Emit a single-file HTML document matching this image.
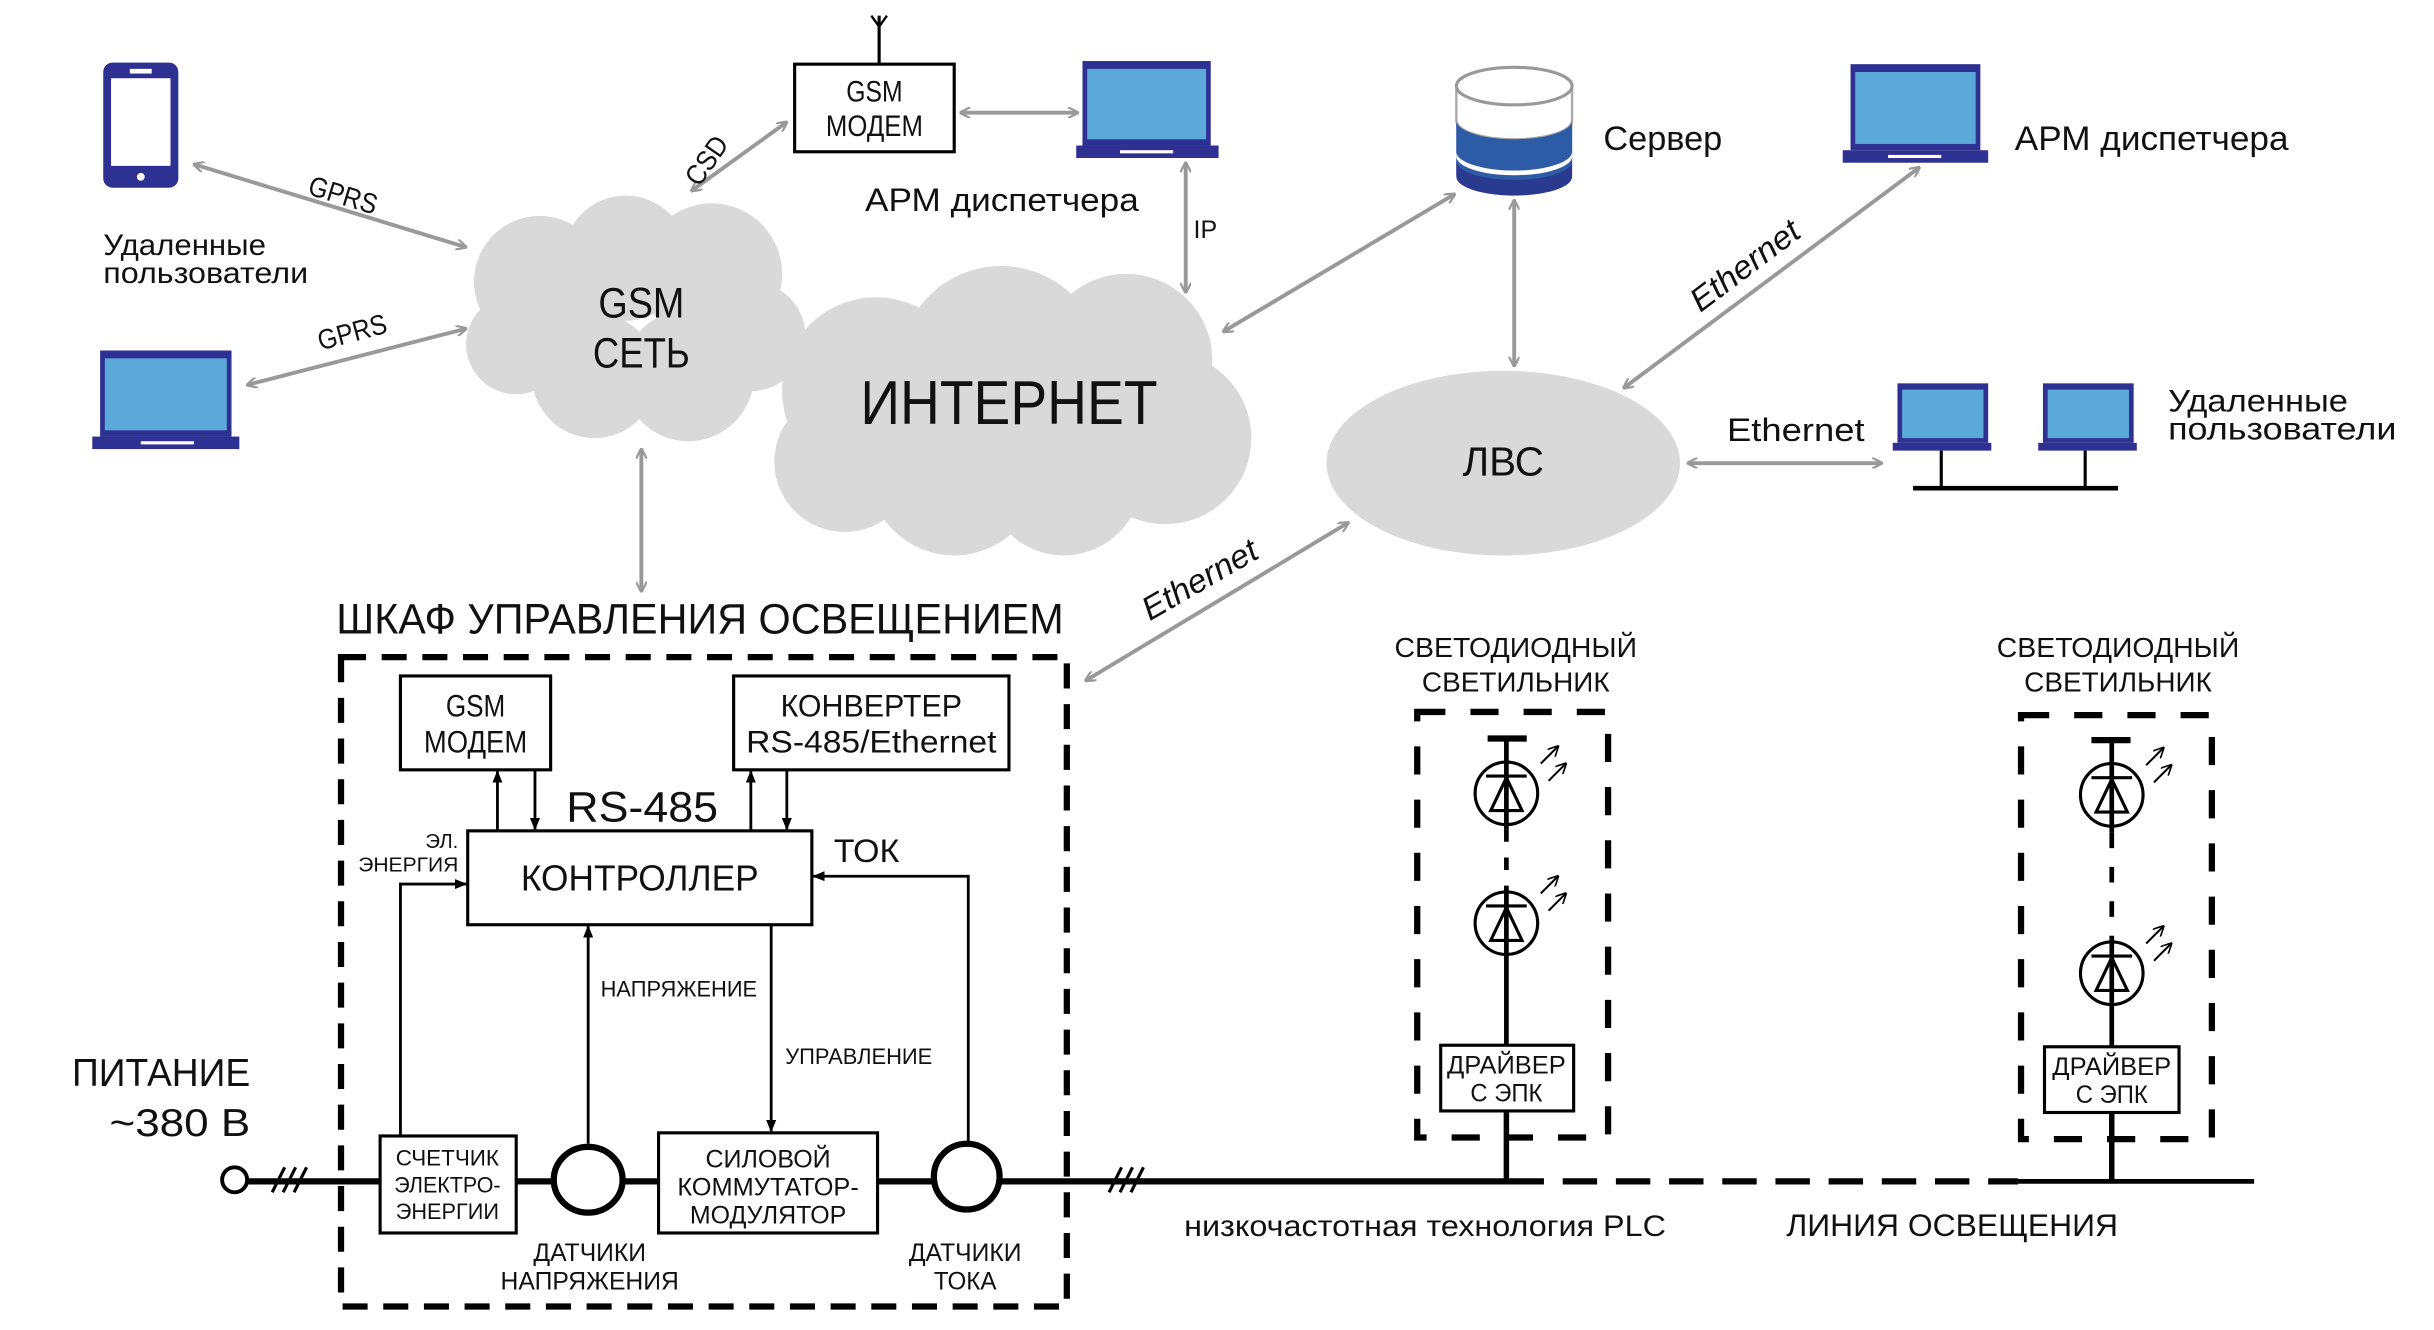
<!DOCTYPE html>
<html><head><meta charset="utf-8"><style>
html,body{margin:0;padding:0;background:#fff;}
svg{display:block;}
text{font-family:"Liberation Sans Narrow","Liberation Sans",sans-serif;fill:#111;}
</style></head><body>
<svg width="2434" height="1330" viewBox="0 0 1556 850" preserveAspectRatio="none" xmlns="http://www.w3.org/2000/svg">
<defs>
<marker id="ga" viewBox="0 0 10 10" refX="9" refY="5" markerWidth="7" markerHeight="7" orient="auto-start-reverse" markerUnits="userSpaceOnUse"><path d="M0,0 L10,5 L0,10" fill="none" stroke="#999" stroke-width="2"/></marker>
<marker id="ba" viewBox="0 0 10 10" refX="9" refY="5" markerWidth="8" markerHeight="8" orient="auto-start-reverse" markerUnits="userSpaceOnUse"><path d="M0,1 L10,5 L0,9 z" fill="#000"/></marker>
<marker id="sa" viewBox="0 0 10 10" refX="9" refY="5" markerWidth="7" markerHeight="7" orient="auto" markerUnits="userSpaceOnUse"><path d="M0,0 L10,5 L0,10" fill="none" stroke="#000" stroke-width="1.5"/></marker>
</defs>
<rect width="1556" height="850" fill="#fff"/>

<g fill="#d9d9d9">
<circle cx="345" cy="180" r="42"/><circle cx="400" cy="165" r="40"/><circle cx="455" cy="175" r="45"/>
<circle cx="330" cy="220" r="32"/><circle cx="380" cy="240" r="40"/><circle cx="440" cy="240" r="42"/><circle cx="480" cy="215" r="35"/>
<circle cx="560" cy="250" r="60"/><circle cx="640" cy="235" r="65"/><circle cx="720" cy="230" r="55"/>
<circle cx="540" cy="295" r="45"/><circle cx="610" cy="300" r="55"/><circle cx="680" cy="305" r="50"/><circle cx="745" cy="280" r="55"/>
<ellipse cx="650" cy="270" rx="140" ry="60"/>
<ellipse cx="961" cy="296" rx="113" ry="59"/>
</g>
<text x="410" y="203" font-size="27" text-anchor="middle" textLength="55" lengthAdjust="spacingAndGlyphs">GSM</text>
<text x="410" y="235" font-size="27" text-anchor="middle" textLength="62" lengthAdjust="spacingAndGlyphs">СЕТЬ</text>
<text x="645" y="271" font-size="40" text-anchor="middle" textLength="190" lengthAdjust="spacingAndGlyphs">ИНТЕРНЕТ</text>
<text x="961" y="304" font-size="26" text-anchor="middle" textLength="52" lengthAdjust="spacingAndGlyphs">ЛВС</text>

<rect x="66" y="40" width="48" height="80" rx="6" fill="#2e3192"/>
<rect x="71" y="50" width="38" height="56" fill="#fff"/>
<rect x="83" y="44" width="14" height="3" fill="#fff"/>
<circle cx="90" cy="113" r="2.5" fill="#fff"/>
<g fill="#2e3192">
<rect x="64" y="224" width="84" height="55"/><rect x="59" y="279" width="94" height="8"/>
<rect x="692" y="39" width="82" height="54"/><rect x="688" y="93" width="91" height="8"/>
<rect x="1183" y="41" width="83" height="55"/><rect x="1178" y="96" width="93" height="8"/>
<rect x="1213" y="245" width="58" height="38"/><rect x="1210" y="283" width="63" height="5"/>
<rect x="1306" y="245" width="58" height="38"/><rect x="1303" y="283" width="63" height="5"/>
</g>
<g fill="#5ba8d9">
<rect x="67" y="229" width="78" height="46"/>
<rect x="695" y="44" width="76" height="45"/>
<rect x="1186" y="46" width="77" height="46"/>
<rect x="1216" y="249" width="52" height="31"/>
<rect x="1309" y="249" width="52" height="31"/>
</g>
<g fill="#fff"><rect x="90" y="282" width="34" height="2"/><rect x="716" y="96" width="34" height="2"/><rect x="1207" y="99" width="34" height="2"/></g>

<path d="M931,55 v57 a37,12 0 0 0 74,0 v-57 z" fill="#2a3a8e"/>
<path d="M931,55 v50 a37,12 0 0 0 74,0 v-50 z" fill="#2d5ba6"/>
<path d="M931,55 v45 a37,12 0 0 0 74,0 v-45 z" fill="#fff"/>
<path d="M931,55 v22 a37,12 0 0 0 74,0 v-22 z" fill="#fff" stroke="#aaa" stroke-width="1.5"/>
<path d="M931,77 v20 a37,12 0 0 0 74,0 v-20 a37,12 0 0 1 -74,0z" fill="#2d5ba6"/>
<path d="M931,103 v10 a37,12 0 0 0 74,0 v-10 a37,12 0 0 1 -74,0z" fill="#2a3a8e"/>
<ellipse cx="968" cy="55" rx="37" ry="12" fill="#fff" stroke="#999" stroke-width="2"/>

<line x1="562" y1="10" x2="562" y2="41" stroke="#000" stroke-width="2"/>
<path d="M557,10 L562,17 L567,10" fill="none" stroke="#000" stroke-width="1.5"/>
<rect x="508" y="41" width="102" height="56" fill="#fff" stroke="#000" stroke-width="2"/>
<text x="559" y="65" font-size="19" text-anchor="middle" textLength="36" lengthAdjust="spacingAndGlyphs">GSM</text>
<text x="559" y="87" font-size="19" text-anchor="middle" textLength="62" lengthAdjust="spacingAndGlyphs">МОДЕМ</text>

<g stroke="#999" stroke-width="2.5" fill="none" marker-start="url(#ga)" marker-end="url(#ga)">
<line x1="124" y1="105" x2="298" y2="158"/>
<line x1="158" y1="246" x2="298" y2="210"/>
<line x1="442" y1="122" x2="503" y2="78"/>
<line x1="614" y1="72" x2="689" y2="72"/>
<line x1="758" y1="104" x2="758" y2="187"/>
<line x1="782" y1="212" x2="930" y2="124"/>
<line x1="968" y1="128" x2="968" y2="234"/>
<line x1="1038" y1="248" x2="1227" y2="107"/>
<line x1="1079" y1="296" x2="1203" y2="296"/>
<line x1="410" y1="287" x2="410" y2="378"/>
<line x1="694" y1="435" x2="862" y2="334"/>
</g>
<text font-size="18" transform="translate(196,124) rotate(17)" textLength="45" lengthAdjust="spacingAndGlyphs">GPRS</text>
<text font-size="18" transform="translate(205,224) rotate(-15)" textLength="45" lengthAdjust="spacingAndGlyphs">GPRS</text>
<text font-size="18" transform="translate(447,120) rotate(-55)" textLength="34" lengthAdjust="spacingAndGlyphs">CSD</text>
<text x="763" y="152" font-size="16">IP</text>
<text font-size="21" font-style="italic" transform="translate(1087,200) rotate(-37)" textLength="82" lengthAdjust="spacingAndGlyphs">Ethernet</text>
<text x="1104" y="282" font-size="21" textLength="88" lengthAdjust="spacingAndGlyphs">Ethernet</text>
<text font-size="21" font-style="italic" transform="translate(735,397) rotate(-30)" textLength="82" lengthAdjust="spacingAndGlyphs">Ethernet</text>

<text x="66" y="163" font-size="19" textLength="104" lengthAdjust="spacingAndGlyphs">Удаленные</text>
<text x="66" y="181" font-size="19" textLength="131" lengthAdjust="spacingAndGlyphs">пользователи</text>
<text x="553" y="135" font-size="21" textLength="175" lengthAdjust="spacingAndGlyphs">АРМ диспетчера</text>
<text x="1025" y="96" font-size="22" textLength="76" lengthAdjust="spacingAndGlyphs">Сервер</text>
<text x="1288" y="96" font-size="22" textLength="175" lengthAdjust="spacingAndGlyphs">АРМ диспетчера</text>
<text x="1386" y="263" font-size="20" textLength="115" lengthAdjust="spacingAndGlyphs">Удаленные</text>
<text x="1386" y="281" font-size="20" textLength="146" lengthAdjust="spacingAndGlyphs">пользователи</text>
<g stroke="#000" stroke-width="2"><line x1="1241" y1="288" x2="1241" y2="312"/><line x1="1333" y1="288" x2="1333" y2="312"/></g>
<line x1="1223" y1="312" x2="1354" y2="312" stroke="#000" stroke-width="3"/>

<text x="215" y="405" font-size="27" textLength="465" lengthAdjust="spacingAndGlyphs">ШКАФ УПРАВЛЕНИЯ ОСВЕЩЕНИЕМ</text>
<rect x="218" y="420" width="464" height="415" fill="none" stroke="#000" stroke-width="4" stroke-dasharray="16,10"/>
<g fill="#fff" stroke="#000" stroke-width="2">
<rect x="256" y="432" width="96" height="60"/>
<rect x="469" y="432" width="176" height="60"/>
<rect x="299" y="531" width="220" height="60"/>
<rect x="243" y="726" width="87" height="62"/>
<rect x="421" y="724" width="140" height="64"/>
</g>
<text x="304" y="458" font-size="20" text-anchor="middle" textLength="38" lengthAdjust="spacingAndGlyphs">GSM</text>
<text x="304" y="481" font-size="20" text-anchor="middle" textLength="66" lengthAdjust="spacingAndGlyphs">МОДЕМ</text>
<text x="557" y="458" font-size="20" text-anchor="middle" textLength="116" lengthAdjust="spacingAndGlyphs">КОНВЕРТЕР</text>
<text x="557" y="481" font-size="20" text-anchor="middle" textLength="160" lengthAdjust="spacingAndGlyphs">RS-485/Ethernet</text>
<text x="362" y="525" font-size="27" textLength="97" lengthAdjust="spacingAndGlyphs">RS-485</text>
<text x="409" y="569" font-size="23" text-anchor="middle" textLength="152" lengthAdjust="spacingAndGlyphs">КОНТРОЛЛЕР</text>
<text x="293" y="542" font-size="13" text-anchor="end">ЭЛ.</text>
<text x="293" y="557" font-size="13" text-anchor="end" textLength="64" lengthAdjust="spacingAndGlyphs">ЭНЕРГИЯ</text>
<text x="533" y="551" font-size="21" textLength="42" lengthAdjust="spacingAndGlyphs">ТОК</text>
<text x="384" y="637" font-size="14" textLength="100" lengthAdjust="spacingAndGlyphs">НАПРЯЖЕНИЕ</text>
<text x="502" y="680" font-size="14" textLength="94" lengthAdjust="spacingAndGlyphs">УПРАВЛЕНИЕ</text>
<g stroke="#000" stroke-width="1.8" fill="none">
<line x1="318" y1="531" x2="318" y2="493" marker-end="url(#ba)"/>
<line x1="342" y1="492" x2="342" y2="530" marker-end="url(#ba)"/>
<line x1="480" y1="531" x2="480" y2="493" marker-end="url(#ba)"/>
<line x1="503" y1="492" x2="503" y2="530" marker-end="url(#ba)"/>
<polyline points="256,726 256,565 298,565" marker-end="url(#ba)"/>
<polyline points="619,730 619,560 520,560" marker-end="url(#ba)"/>
<line x1="376" y1="731" x2="376" y2="592" marker-end="url(#ba)"/>
<line x1="493" y1="591" x2="493" y2="723" marker-end="url(#ba)"/>
</g>
<text x="286" y="745" font-size="14" text-anchor="middle" textLength="66" lengthAdjust="spacingAndGlyphs">СЧЕТЧИК</text>
<text x="286" y="762" font-size="14" text-anchor="middle" textLength="68" lengthAdjust="spacingAndGlyphs">ЭЛЕКТРО-</text>
<text x="286" y="779" font-size="14" text-anchor="middle" textLength="66" lengthAdjust="spacingAndGlyphs">ЭНЕРГИИ</text>
<text x="491" y="746" font-size="16" text-anchor="middle" textLength="80" lengthAdjust="spacingAndGlyphs">СИЛОВОЙ</text>
<text x="491" y="764" font-size="16" text-anchor="middle" textLength="116" lengthAdjust="spacingAndGlyphs">КОММУТАТОР-</text>
<text x="491" y="782" font-size="16" text-anchor="middle" textLength="100" lengthAdjust="spacingAndGlyphs">МОДУЛЯТОР</text>

<g stroke="#000" stroke-width="4" fill="none">
<line x1="158" y1="755" x2="243" y2="755"/>
<line x1="330" y1="755" x2="354" y2="755"/>
<line x1="398" y1="755" x2="421" y2="755"/>
<line x1="561" y1="755" x2="596" y2="755"/>
<line x1="640" y1="755" x2="965" y2="755"/>
<line x1="965" y1="755" x2="1290" y2="755" stroke-dasharray="22,12"/>
<line x1="1290" y1="755" x2="1441" y2="755" stroke-width="3"/>
<ellipse cx="376" cy="754" rx="22" ry="21" stroke-width="4"/>
<ellipse cx="618" cy="752" rx="21" ry="21" stroke-width="4"/>
</g>
<circle cx="150" cy="754" r="8" fill="#fff" stroke="#000" stroke-width="2.5"/>
<g stroke="#000" stroke-width="2"><line x1="174" y1="762" x2="182" y2="746"/><line x1="181" y1="762" x2="189" y2="746"/><line x1="188" y1="762" x2="196" y2="746"/>
<line x1="709" y1="762" x2="717" y2="746"/><line x1="716" y1="762" x2="724" y2="746"/><line x1="723" y1="762" x2="731" y2="746"/></g>
<text x="46" y="694" font-size="25" textLength="114" lengthAdjust="spacingAndGlyphs">ПИТАНИЕ</text>
<text x="70" y="726" font-size="25" textLength="90" lengthAdjust="spacingAndGlyphs">~380 В</text>
<text x="377" y="806" font-size="16" text-anchor="middle" textLength="72" lengthAdjust="spacingAndGlyphs">ДАТЧИКИ</text>
<text x="377" y="824" font-size="16" text-anchor="middle" textLength="114" lengthAdjust="spacingAndGlyphs">НАПРЯЖЕНИЯ</text>
<text x="617" y="806" font-size="16" text-anchor="middle" textLength="72" lengthAdjust="spacingAndGlyphs">ДАТЧИКИ</text>
<text x="617" y="824" font-size="16" text-anchor="middle" textLength="40" lengthAdjust="spacingAndGlyphs">ТОКА</text>
<text x="757" y="790" font-size="19" textLength="308" lengthAdjust="spacingAndGlyphs">низкочастотная технология PLC</text>
<text x="1142" y="790" font-size="20" textLength="212" lengthAdjust="spacingAndGlyphs">ЛИНИЯ ОСВЕЩЕНИЯ</text>

<text x="969" y="420" font-size="18" text-anchor="middle" textLength="155" lengthAdjust="spacingAndGlyphs">СВЕТОДИОДНЫЙ</text>
<text x="969" y="442" font-size="18" text-anchor="middle" textLength="120" lengthAdjust="spacingAndGlyphs">СВЕТИЛЬНИК</text>
<rect x="906" y="455" width="122" height="272" fill="none" stroke="#000" stroke-width="4" stroke-dasharray="18,16"/>
<g stroke="#000" fill="none">
<line x1="951" y1="472" x2="976" y2="472" stroke-width="4"/>
<line x1="963" y1="472" x2="963" y2="530" stroke-width="3"/>
<line x1="963" y1="530" x2="963" y2="570" stroke-width="3" stroke-dasharray="8,10"/>
<line x1="963" y1="570" x2="963" y2="668" stroke-width="3"/>
<line x1="963" y1="710" x2="963" y2="755" stroke-width="3.5"/>
<circle cx="963" cy="507" r="20" stroke-width="2"/>
<circle cx="963" cy="590" r="20" stroke-width="2"/>
<path d="M953,518 L963,497 L973,518 Z M950,496 H976" stroke-width="2"/>
<path d="M953,601 L963,580 L973,601 Z M950,579 H976" stroke-width="2"/>
<g stroke-width="1.3"><line x1="985" y1="488" x2="996" y2="477" marker-end="url(#sa)"/><line x1="990" y1="499" x2="1001" y2="488" marker-end="url(#sa)"/>
<line x1="985" y1="571" x2="996" y2="560" marker-end="url(#sa)"/><line x1="990" y1="582" x2="1001" y2="571" marker-end="url(#sa)"/></g>
<rect x="921" y="668" width="85" height="42" fill="#fff" stroke-width="2"/>
</g>
<text x="963" y="686" font-size="16" text-anchor="middle" textLength="76" lengthAdjust="spacingAndGlyphs">ДРАЙВЕР</text>
<text x="963" y="704" font-size="16" text-anchor="middle" textLength="46" lengthAdjust="spacingAndGlyphs">С ЭПК</text>

<text x="1354" y="420" font-size="18" text-anchor="middle" textLength="155" lengthAdjust="spacingAndGlyphs">СВЕТОДИОДНЫЙ</text>
<text x="1354" y="442" font-size="18" text-anchor="middle" textLength="120" lengthAdjust="spacingAndGlyphs">СВЕТИЛЬНИК</text>
<rect x="1292" y="457" width="122" height="271" fill="none" stroke="#000" stroke-width="4" stroke-dasharray="18,16"/>
<g stroke="#000" fill="none">
<line x1="1337" y1="473" x2="1362" y2="473" stroke-width="4"/>
<line x1="1350" y1="473" x2="1350" y2="532" stroke-width="3"/>
<line x1="1350" y1="532" x2="1350" y2="600" stroke-width="3" stroke-dasharray="10,12"/>
<line x1="1350" y1="600" x2="1350" y2="669" stroke-width="3"/>
<line x1="1350" y1="711" x2="1350" y2="755" stroke-width="3.5"/>
<circle cx="1350" cy="508" r="20" stroke-width="2"/>
<circle cx="1350" cy="622" r="20" stroke-width="2"/>
<path d="M1340,519 L1350,498 L1360,519 Z M1337,497 H1363" stroke-width="2"/>
<path d="M1340,633 L1350,612 L1360,633 Z M1337,611 H1363" stroke-width="2"/>
<g stroke-width="1.3"><line x1="1372" y1="489" x2="1383" y2="478" marker-end="url(#sa)"/><line x1="1377" y1="500" x2="1388" y2="489" marker-end="url(#sa)"/>
<line x1="1372" y1="603" x2="1383" y2="592" marker-end="url(#sa)"/><line x1="1377" y1="614" x2="1388" y2="603" marker-end="url(#sa)"/></g>
<rect x="1307" y="669" width="86" height="42" fill="#fff" stroke-width="2"/>
</g>
<text x="1350" y="687" font-size="16" text-anchor="middle" textLength="76" lengthAdjust="spacingAndGlyphs">ДРАЙВЕР</text>
<text x="1350" y="705" font-size="16" text-anchor="middle" textLength="46" lengthAdjust="spacingAndGlyphs">С ЭПК</text>
</svg>
</body></html>
